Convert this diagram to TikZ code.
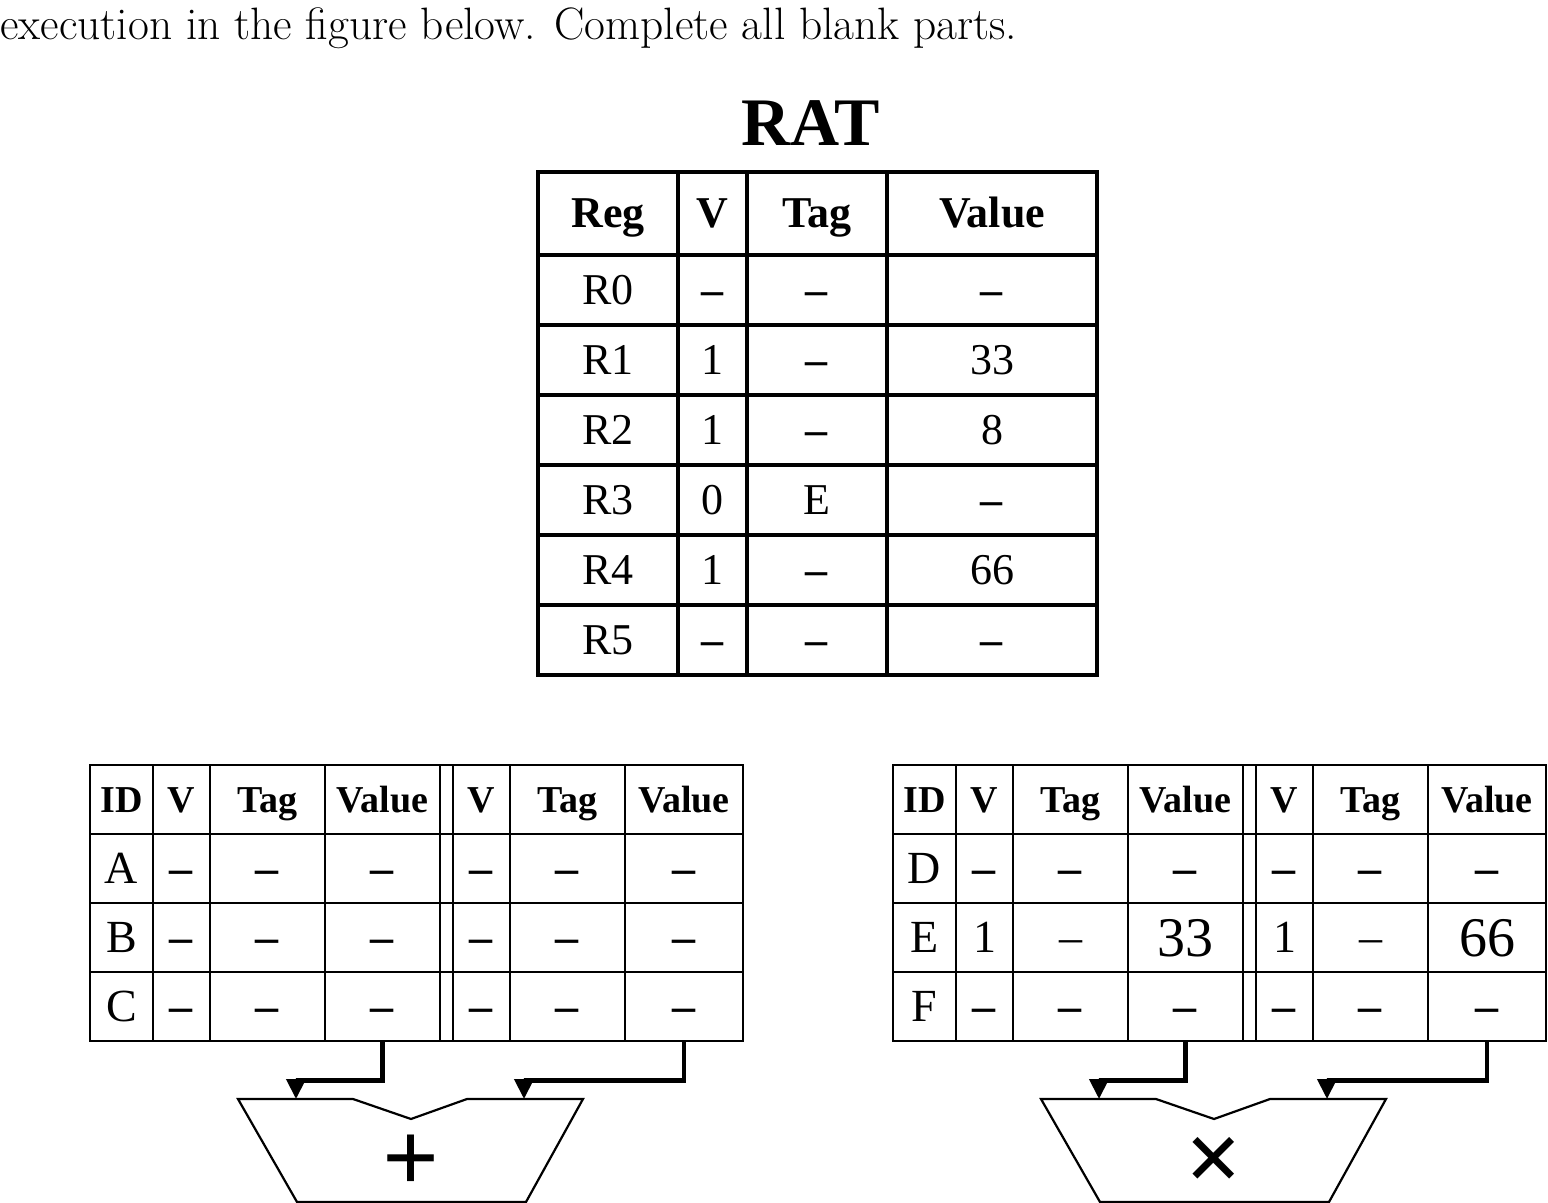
\documentclass[tikz,border=0pt]{standalone}
\usepackage{fontspec}
\usetikzlibrary{arrows,arrows.meta}
\newfontfamily\tabfont{Liberation Serif}
\newcommand\dsh{\textbf{\textendash}}

\tikzset{
  ratcell/.style={draw,line width=2pt,inner sep=0pt,minimum height=35pt,text height=14.5pt,text depth=0pt,font=\tabfont\fontsize{22}{26}\selectfont},
  rathead/.style={ratcell,minimum height=41.5pt,font=\tabfont\bfseries\fontsize{22}{26}\selectfont},
  wreg/.style={minimum width=70pt},
  wv/.style={minimum width=34.5pt},
  wtag/.style={minimum width=70pt},
  wval/.style={minimum width=105pt},
  rscell/.style={draw,line width=1.4pt,inner sep=0pt,minimum height=34.5pt,text height=15pt,text depth=0pt,font=\tabfont\fontsize{23}{27}\selectfont},
  rshead/.style={rscell,text height=12.5pt,font=\tabfont\bfseries\fontsize{19}{23}\selectfont},
  rsbig/.style={rscell,text height=18.5pt,font=\tabfont\fontsize{28}{32}\selectfont},
  cid/.style={minimum width=31.5pt},
  cv/.style={minimum width=28.5pt},
  ctag/.style={minimum width=57.5pt},
  cval/.style={minimum width=57.5pt},
  cgap/.style={minimum width=6.5pt},
  cval2/.style={minimum width=59pt},
  alu/.style={line width=1.1pt},
  bus/.style={line width=2.1pt,-{Triangle[length=10pt,width=9.5pt]}},
  op/.style={inner sep=0pt,text height=28pt,text depth=0pt,font=\tabfont\bfseries\fontsize{50}{54}\selectfont}
}

\begin{document}
\begin{tikzpicture}[x=0.5pt,y=-0.5pt]
\useasboundingbox (0,0) rectangle (1548,1203);
\node[anchor=base west,inner sep=0pt,font=\fontsize{22.7}{27}\selectfont] (cap) at (0,40) {execution in the figure below. Complete all blank parts.};

\node[inner sep=0pt,font=\tabfont\bfseries\fontsize{34}{38}\selectfont] (rat) at (811,123) {RAT};
\node[rathead,wreg] (hreg) at (608,213.5) {Reg};
\node[rathead,wv] (hv) at (712.5,213.5) {V};
\node[rathead,wtag] (htag) at (817,213.5) {Tag};
\node[rathead,wval] (hval) at (992,213.5) {Value};
\node[ratcell,wreg] (r0reg) at (608,290) {R0};
\node[ratcell,wv] (r0v) at (712.5,290) {\dsh};
\node[ratcell,wtag] (r0tag) at (817,290) {\dsh};
\node[ratcell,wval] (r0val) at (992,290) {\dsh};
\node[ratcell,wreg] (r1reg) at (608,360) {R1};
\node[ratcell,wv] (r1v) at (712.5,360) {1};
\node[ratcell,wtag] (r1tag) at (817,360) {\dsh};
\node[ratcell,wval] (r1val) at (992,360) {33};
\node[ratcell,wreg] (r2reg) at (608,430) {R2};
\node[ratcell,wv] (r2v) at (712.5,430) {1};
\node[ratcell,wtag] (r2tag) at (817,430) {\dsh};
\node[ratcell,wval] (r2val) at (992,430) {8};
\node[ratcell,wreg] (r3reg) at (608,500) {R3};
\node[ratcell,wv] (r3v) at (712.5,500) {0};
\node[ratcell,wtag] (r3tag) at (817,500) {E};
\node[ratcell,wval] (r3val) at (992,500) {\dsh};
\node[ratcell,wreg] (r4reg) at (608,570) {R4};
\node[ratcell,wv] (r4v) at (712.5,570) {1};
\node[ratcell,wtag] (r4tag) at (817,570) {\dsh};
\node[ratcell,wval] (r4val) at (992,570) {66};
\node[ratcell,wreg] (r5reg) at (608,640) {R5};
\node[ratcell,wv] (r5v) at (712.5,640) {\dsh};
\node[ratcell,wtag] (r5tag) at (817,640) {\dsh};
\node[ratcell,wval] (r5val) at (992,640) {\dsh};

\node[rshead,cid] (lid) at (121.5,799.5) {ID};
\node[rshead,cv] (lv) at (181.5,799.5) {V};
\node[rshead,ctag] (ltag) at (267.5,799.5) {Tag};
\node[rshead,cval] (lval) at (382.5,799.5) {Value};
\node[rshead,cgap] (lgap) at (446.5,799.5) {};
\node[rshead,cv] (lv2) at (481.5,799.5) {V};
\node[rshead,ctag] (ltag2) at (567.5,799.5) {Tag};
\node[rshead,cval2] (lval2) at (684,799.5) {Value};
\node[rscell,cid] (aid) at (121.5,868.5) {A};
\node[rscell,cv] (av) at (181.5,868.5) {\dsh};
\node[rscell,ctag] (atag) at (267.5,868.5) {\dsh};
\node[rscell,cval] (aval) at (382.5,868.5) {\dsh};
\node[rscell,cgap] (agap) at (446.5,868.5) {};
\node[rscell,cv] (av2) at (481.5,868.5) {\dsh};
\node[rscell,ctag] (atag2) at (567.5,868.5) {\dsh};
\node[rscell,cval2] (aval2) at (684,868.5) {\dsh};
\node[rscell,cid] (bid) at (121.5,937.5) {B};
\node[rscell,cv] (bv) at (181.5,937.5) {\dsh};
\node[rscell,ctag] (btag) at (267.5,937.5) {\dsh};
\node[rscell,cval] (bval) at (382.5,937.5) {\dsh};
\node[rscell,cgap] (bgap) at (446.5,937.5) {};
\node[rscell,cv] (bv2) at (481.5,937.5) {\dsh};
\node[rscell,ctag] (btag2) at (567.5,937.5) {\dsh};
\node[rscell,cval2] (bval2) at (684,937.5) {\dsh};
\node[rscell,cid] (cid) at (121.5,1006.5) {C};
\node[rscell,cv] (cv) at (181.5,1006.5) {\dsh};
\node[rscell,ctag] (ctag) at (267.5,1006.5) {\dsh};
\node[rscell,cval] (cval) at (382.5,1006.5) {\dsh};
\node[rscell,cgap] (cgap) at (446.5,1006.5) {};
\node[rscell,cv] (cv2) at (481.5,1006.5) {\dsh};
\node[rscell,ctag] (ctag2) at (567.5,1006.5) {\dsh};
\node[rscell,cval2] (cval2) at (684,1006.5) {\dsh};

\node[rshead,cid] (rid) at (924.5,799.5) {ID};
\node[rshead,cv] (rv) at (984.5,799.5) {V};
\node[rshead,ctag] (rtag) at (1070.5,799.5) {Tag};
\node[rshead,cval] (rval) at (1185.5,799.5) {Value};
\node[rshead,cgap] (rgap) at (1249.5,799.5) {};
\node[rshead,cv] (rv2) at (1284.5,799.5) {V};
\node[rshead,ctag] (rtag2) at (1370.5,799.5) {Tag};
\node[rshead,cval2] (rval2) at (1487,799.5) {Value};
\node[rscell,cid] (did) at (924.5,868.5) {D};
\node[rscell,cv] (dv) at (984.5,868.5) {\dsh};
\node[rscell,ctag] (dtag) at (1070.5,868.5) {\dsh};
\node[rscell,cval] (dval) at (1185.5,868.5) {\dsh};
\node[rscell,cgap] (dgap) at (1249.5,868.5) {};
\node[rscell,cv] (dv2) at (1284.5,868.5) {\dsh};
\node[rscell,ctag] (dtag2) at (1370.5,868.5) {\dsh};
\node[rscell,cval2] (dval2) at (1487,868.5) {\dsh};
\node[rscell,cid] (eid) at (924.5,937.5) {E};
\node[rscell,cv] (ev) at (984.5,937.5) {1};
\node[rscell,ctag] (etag) at (1070.5,937.5) {\textendash};
\node[rsbig,cval] (eval) at (1185.5,937.5) {33};
\node[rscell,cgap] (egap) at (1249.5,937.5) {};
\node[rscell,cv] (ev2) at (1284.5,937.5) {1};
\node[rscell,ctag] (etag2) at (1370.5,937.5) {\textendash};
\node[rsbig,cval2] (eval2) at (1487,937.5) {66};
\node[rscell,cid] (fid) at (924.5,1006.5) {F};
\node[rscell,cv] (fv) at (984.5,1006.5) {\dsh};
\node[rscell,ctag] (ftag) at (1070.5,1006.5) {\dsh};
\node[rscell,cval] (fval) at (1185.5,1006.5) {\dsh};
\node[rscell,cgap] (fgap) at (1249.5,1006.5) {};
\node[rscell,cv] (fv2) at (1284.5,1006.5) {\dsh};
\node[rscell,ctag] (ftag2) at (1370.5,1006.5) {\dsh};
\node[rscell,cval2] (fval2) at (1487,1006.5) {\dsh};

\draw[alu] (238,1099) -- (353,1099) -- (411,1119) -- (467,1099) -- (583,1099) -- (526,1202) -- (297,1202) -- cycle;
\node[op] (add) at (411,1163) {+};
\coordinate (addA) at (296,1099);
\coordinate (addB) at (524,1099);
\draw[bus] (cval.south) -- ++(0,38) -| (addA);
\draw[bus] (cval2.south) -- ++(0,38) -| (addB);

\draw[alu] (1041,1099) -- (1156,1099) -- (1214,1119) -- (1270,1099) -- (1386,1099) -- (1329,1202) -- (1100,1202) -- cycle;
\node[op] (mul) at (1214,1163) {\texttimes};
\coordinate (mulA) at (1099,1099);
\coordinate (mulB) at (1327,1099);
\draw[bus] (fval.south) -- ++(0,38) -| (mulA);
\draw[bus] (fval2.south) -- ++(0,38) -| (mulB);
\end{tikzpicture}
\end{document}
